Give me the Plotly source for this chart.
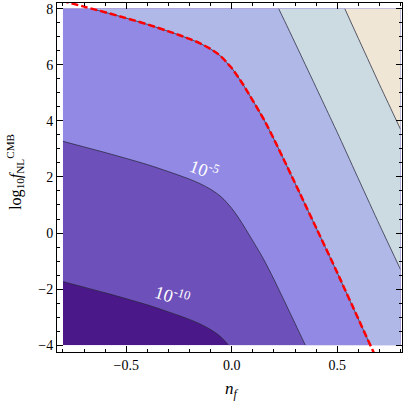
import numpy as np
import plotly.graph_objects as go

# n_f samples and the log10 f_NL^CMB value where the quantity reaches 1 (red dashed curve)
nf = [-0.8, -0.7, -0.6, -0.5, -0.4, -0.3, -0.25, -0.2, -0.15, -0.1, -0.05, 0.0,
      0.05, 0.1, 0.15, 0.2, 0.25, 0.3, 0.4, 0.5, 0.6, 0.7, 0.8]
log_f_crit = [8.27, 8.07, 7.87, 7.66, 7.44, 7.19, 7.06, 6.92, 6.76, 6.56, 6.29, 5.88,
              5.34, 4.72, 4.08, 3.35, 2.57, 1.78, 0.19, -1.41, -3.06, -4.70, -6.3]

# log10 f_NL^CMB rows (fill and red line)
log_f = [-4, -2, 0, 2, 4, 6, 8]
log_f_red = [-5, -2, 0, 2, 4, 6, 9]

levels = [-10, 5]  # contour start / step in log10
band_colors = ["#4b188a", "#6e50ba", "#9189e3", "#b0b8e7", "#ccdae2", "#f0e6d6"]
label_text = ["10<sup>-10</sup>", "10<sup>-5</sup>"]
label_n = [-0.283, -0.127]
label_y = [-2.21, 2.28]
label_angle = [17, 20]

crit = np.array(log_f_crit)
z_fill = np.array(log_f)[:, None] - crit[None, :]
z_red = np.array(log_f_red)[:, None] - crit[None, :]

scale = [[i / (len(band_colors) - 1), c] for i, c in enumerate(band_colors)]
serif = "Liberation Serif"

fig = go.Figure()
fig.add_trace(go.Contour(
    x=nf, y=log_f, z=z_fill,
    contours=dict(start=levels[0], end=-levels[0], size=levels[1], coloring="fill"),
    colorscale=scale, showscale=False,
    line=dict(color="rgba(40,40,60,0.75)", width=1, smoothing=1),
    hoverinfo="skip",
))
fig.add_trace(go.Contour(
    x=nf, y=log_f_red, z=z_red,
    contours=dict(start=0, end=0, size=1, coloring="none"),
    showscale=False,
    line=dict(color="#ff0000", width=2.5, dash="7px,3px", smoothing=1),
    hoverinfo="skip",
))

for t, xn, yv, a in zip(label_text, label_n, label_y, label_angle):
    fig.add_annotation(x=xn, y=yv, text=t, showarrow=False, textangle=a,
                       xanchor="center", yanchor="middle",
                       font=dict(family=serif, size=18, color="white"))

# axis titles
fig.add_annotation(x=0.0, y=-0.109, xref="x", yref="paper", text="<i>n<sub>f</sub></i>",
                   showarrow=False, xanchor="center", yanchor="middle",
                   font=dict(family=serif, size=17, color="black"))
fig.add_annotation(x=-0.122, y=0.516, xref="paper", yref="paper", textangle=-90,
                   text="log<sub>10</sub><i>f</i><sub>NL</sub><sup>CMB</sup>",
                   showarrow=False, xanchor="center", yanchor="middle",
                   font=dict(family=serif, size=16, color="black"))

axis = dict(showline=True, linecolor="black", linewidth=1, mirror="allticks",
            ticks="inside", ticklen=6, tickcolor="black", showgrid=False, zeroline=False,
            automargin=False, tickfont=dict(family=serif, size=14, color="black"))

fig.update_xaxes(axis, range=[-0.828, 0.807], dtick=0.5, tick0=0, tickformat=".1f",
                 minor=dict(dtick=0.1, ticks="inside", ticklen=3, tickcolor="black"))
fig.update_yaxes(axis, range=[-4.24, 8.2], dtick=2, tick0=0,
                 minor=dict(dtick=0.5, ticks="inside", ticklen=3, tickcolor="black"))

fig.update_layout(width=409, height=403, margin=dict(l=57, r=7, t=3, b=51),
                  font=dict(family=serif, size=14, color="black"),
                  plot_bgcolor="white", paper_bgcolor="white")
fig.write_html("out.html", config={"displayModeBar": False},
               post_script="document.body.style.margin='0px';")
